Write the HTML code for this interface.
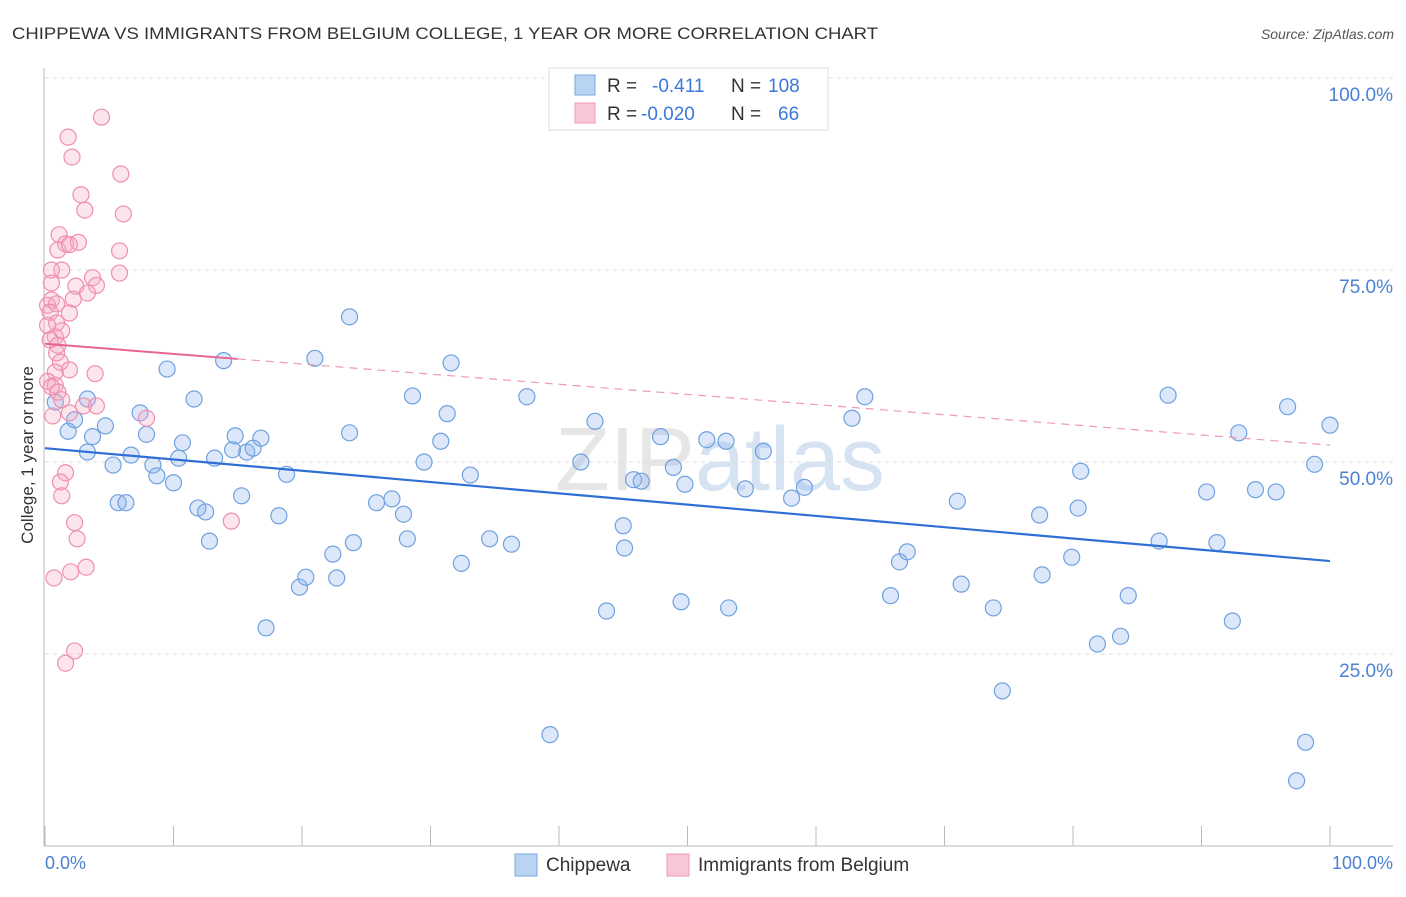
<!DOCTYPE html>
<html><head><meta charset="utf-8"><style>
body{margin:0;background:#fff;font-family:"Liberation Sans",sans-serif;}
svg text{font-family:"Liberation Sans",sans-serif;}
</style></head><body>
<svg id="chart" width="1406" height="892" xmlns="http://www.w3.org/2000/svg">
<text x="12" y="39" font-size="17" fill="#333" textLength="866" lengthAdjust="spacingAndGlyphs">CHIPPEWA VS IMMIGRANTS FROM BELGIUM COLLEGE, 1 YEAR OR MORE CORRELATION CHART</text>
<text x="1394" y="39" font-size="14" fill="#555" text-anchor="end" font-style="italic">Source: ZipAtlas.com</text>
<text x="720" y="490" font-size="90" fill="#e6e6e6" text-anchor="middle" font-family="Liberation Serif">ZIP<tspan fill="#d6e3f3" font-family="Liberation Sans">atlas</tspan></text>
<g id="grid"></g>
<g id="axes"></g>
<g id="pts"></g>
<g id="trend"></g>
<text x="33" y="455" font-size="17" fill="#333" text-anchor="middle" transform="rotate(-90 33 455)">College, 1 year or more</text>
<text x="45" y="869" font-size="18" fill="#4a7fd4">0.0%</text>
<text x="1393" y="869" font-size="18" fill="#4a7fd4" text-anchor="end">100.0%</text>
<g>
<rect x="549" y="68" width="279" height="62" fill="#fff" stroke="#ddd"/>
<rect x="575" y="75" width="20" height="20" fill="#b9d3f3" stroke="#7aa7e0"/>
<rect x="575" y="103" width="20" height="20" fill="#f9c6d6" stroke="#ef9ab5"/>
<text x="607" y="92" font-size="19" fill="#333">R =</text>
<text x="652" y="92" font-size="19" fill="#3b78d8">-0.411</text>
<text x="731" y="92" font-size="19" fill="#333">N =</text>
<text x="768" y="92" font-size="19" fill="#3b78d8">108</text>
<text x="607" y="120" font-size="19" fill="#333">R =</text>
<text x="641" y="120" font-size="19" fill="#3b78d8">-0.020</text>
<text x="731" y="120" font-size="19" fill="#333">N =</text>
<text x="778" y="120" font-size="19" fill="#3b78d8">66</text>
</g>
<g>
<rect x="515" y="854" width="22" height="22" fill="#b9d3f3" stroke="#7aa7e0"/>
<text x="546" y="871" font-size="19" fill="#333">Chippewa</text>
<rect x="667" y="854" width="22" height="22" fill="#f9c6d6" stroke="#ef9ab5"/>
<text x="698" y="871" font-size="19" fill="#333">Immigrants from Belgium</text>
</g>
</svg>
<script>
const yTicks=[25,50,75,100];
const yTickLabels=["25.0%","50.0%","75.0%","100.0%"];
const xTicks=[0,10,20,30,40,50,60,70,80,90,100];
const blueX=[0.8,1.8,3.3,2.3,3.7,3.3,4.7,5.3,5.7,6.3,6.7,7.4,7.9,8.4,8.7,9.5,10.0,10.4,10.7,11.6,11.9,12.5,12.8,13.2,13.9,14.6,14.8,15.3,15.7,16.2,16.8,17.2,18.2,18.8,19.8,20.3,21.0,22.4,22.7,23.7,23.7,24.0,25.8,27.0,27.9,28.2,28.6,29.5,30.8,31.3,31.6,32.4,33.1,34.6,36.3,37.5,39.3,41.7,42.8,43.7,45.0,45.1,45.8,46.4,47.9,48.9,49.5,49.8,51.5,53.0,53.2,54.5,55.9,58.1,59.1,62.8,63.8,65.8,66.5,67.1,71.0,71.3,73.8,74.5,77.4,77.6,79.9,80.4,80.6,81.9,83.7,84.3,86.7,87.4,90.4,91.2,92.4,92.9,94.2,95.8,96.7,97.4,98.1,98.8,100];
const blueY=[57.8,54.0,58.2,55.5,53.3,51.3,54.7,49.6,44.7,44.7,50.9,56.4,53.6,49.6,48.2,62.1,47.3,50.5,52.5,58.2,44.0,43.5,39.7,50.5,63.2,51.6,53.4,45.6,51.3,51.8,53.1,28.4,43.0,48.4,33.7,35.0,63.5,38.0,34.9,68.9,53.8,39.5,44.7,45.2,43.2,40.0,58.6,50.0,52.7,56.3,62.9,36.8,48.3,40.0,39.3,58.5,14.5,50.0,55.3,30.6,41.7,38.8,47.7,47.5,53.3,49.3,31.8,47.1,52.9,52.7,31.0,46.5,51.4,45.3,46.7,55.7,58.5,32.6,37.0,38.3,44.9,34.1,31.0,20.2,43.1,35.3,37.6,44.0,48.8,26.3,27.3,32.6,39.7,58.7,46.1,39.5,29.3,53.8,46.4,46.1,57.2,8.5,13.5,49.7,54.8];
const pinkX=[4.4,1.8,2.1,5.9,2.8,3.1,6.1,1.1,1.6,2.6,1.0,1.9,5.8,1.3,0.5,3.7,5.8,0.5,4.0,2.4,3.3,0.5,2.2,0.2,0.9,0.4,1.9,0.9,0.2,1.3,0.8,0.4,1.0,0.9,1.2,1.9,3.9,0.8,0.2,0.8,0.5,1.0,1.3,3.0,4.0,0.6,1.9,7.9,1.6,1.2,1.3,2.3,2.5,14.5,3.2,2.0,0.7,2.3,1.6];
const pinkY=[94.9,92.3,89.7,87.5,84.8,82.8,82.3,79.6,78.4,78.6,77.6,78.3,77.5,75.0,75.0,74.0,74.6,73.3,73.0,72.9,72.0,71.1,71.2,70.4,70.6,69.5,69.4,68.1,67.8,67.1,66.3,65.9,65.2,64.2,63.0,62.0,61.5,61.7,60.5,60.0,59.8,59.1,58.1,57.3,57.3,56.0,56.4,55.7,48.6,47.4,45.6,42.1,40.0,42.3,36.3,35.7,34.9,25.4,23.8];
const blueTrend=[51.8,37.1];
const pinkTrend=[65.4,52.2];
const pinkSolidEnd=15;

const NS="http://www.w3.org/2000/svg";
const X=v=>45+v*12.85;
const Y=v=>846-v*7.68;
function mk(tag,attrs,parent){const e=document.createElementNS(NS,tag);for(const k in attrs)e.setAttribute(k,attrs[k]);document.getElementById(parent).appendChild(e);return e;}
yTicks.forEach((t,i)=>{
  const l=mk('line',{x1:45,x2:1393,y1:Y(t),y2:Y(t),stroke:'#ddd','stroke-dasharray':'4,4'},'grid');
  
  
  const tx=mk('text',{x:1393,y:Y(t)+23,'font-size':19,fill:'#4a7fd4','text-anchor':'end'},'grid');
  tx.textContent=yTickLabels[i];
  
  
});
const ya=mk('line',{x1:44,x2:44,y1:68,y2:846,stroke:'#bbb'},'axes');


const xa=mk('line',{x1:44,x2:1393,y1:846,y2:846,stroke:'#bbb'},'axes');


xTicks.forEach(t=>{
  const l=mk('line',{x1:X(t),x2:X(t),y1:826,y2:846,stroke:'#bbb'},'axes');
  
  
});
blueX.forEach((x,i)=>{
  const c=mk('circle',{cx:X(x),cy:Y(blueY[i]),r:8,fill:'rgba(140,180,235,0.3)',stroke:'#6fa1e0','stroke-width':1.2},'pts');
  
  
});
pinkX.forEach((x,i)=>{
  const c=mk('circle',{cx:X(x),cy:Y(pinkY[i]),r:8,fill:'rgba(245,170,195,0.3)',stroke:'#ef8fae','stroke-width':1.2},'pts');
  
  
});
const bt=mk('line',{x1:X(0),y1:Y(blueTrend[0]),x2:X(100),y2:Y(blueTrend[1]),stroke:'#2f6fd6','stroke-width':2.2},'trend');


const pAt=x=>pinkTrend[0]+(pinkTrend[1]-pinkTrend[0])*x/100;
const ps=mk('line',{x1:X(0),y1:Y(pAt(0)),x2:X(pinkSolidEnd),y2:Y(pAt(pinkSolidEnd)),stroke:'#e9648e','stroke-width':2},'trend');


const pd=mk('line',{x1:X(pinkSolidEnd),y1:Y(pAt(pinkSolidEnd)),x2:X(100),y2:Y(pAt(100)),stroke:'#ee9ab4','stroke-width':1.2,'stroke-dasharray':'8,6'},'trend');


</script>
</body></html>
